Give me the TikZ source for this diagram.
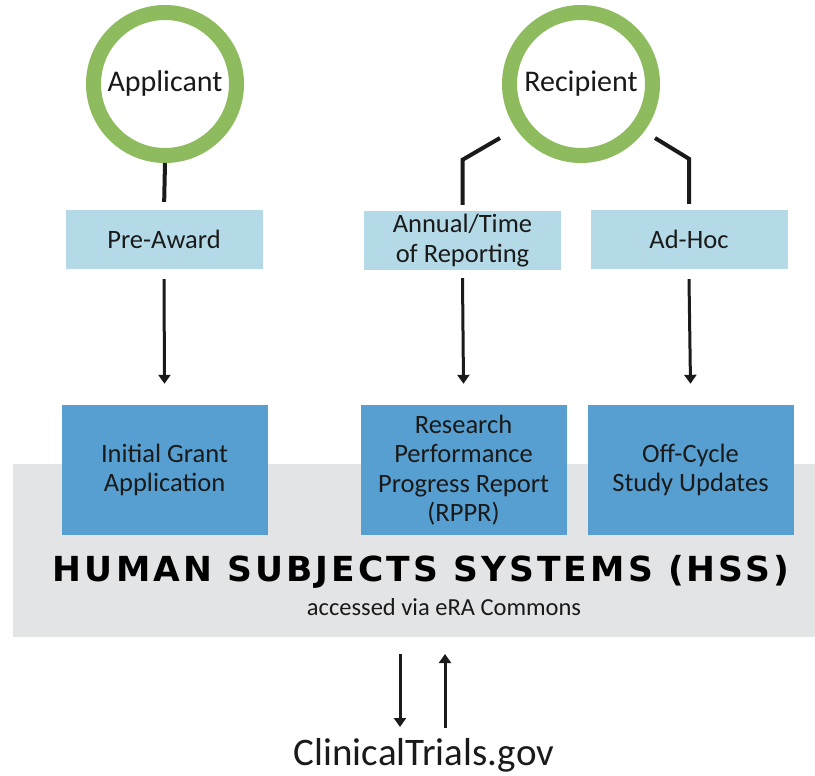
\documentclass[tikz,border=0pt]{standalone}
\usepackage{fontspec}
\setmainfont{Carlito}
\newfontfamily\hssfont[LetterSpace=9]{DejaVu Sans Bold}
\usetikzlibrary{arrows.meta}

\definecolor{ringgreen}{RGB}{141,187,94}
\definecolor{stageblue}{RGB}{180,218,232}
\definecolor{sysblue}{RGB}{86,159,208}
\definecolor{bandgray}{RGB}{227,228,230}
\definecolor{inkgray}{RGB}{26,26,26}

\tikzset{
  role/.style={circle, draw=ringgreen, line width=15pt, minimum size=143pt,
    inner sep=0pt, text=inkgray, font=\fontsize{30}{32}\selectfont},
  stage/.style={fill=stageblue, minimum width=197pt, minimum height=59pt,
    inner sep=0pt, align=center, text=inkgray, font=\fontsize{26.5}{29.5}\selectfont},
  system/.style={fill=sysblue, minimum width=206pt, minimum height=130pt,
    inner sep=0pt, align=center, text=inkgray, font=\fontsize{26.5}{29.5}\selectfont},
  link/.style={line width=4pt, draw=inkgray},
  flow/.style={line width=3pt, draw=inkgray, -{Triangle[width=12pt,length=9pt]}},
}

\begin{document}
\begin{tikzpicture}[x=1pt, y=-1pt]

    % Canvas of the reference size
    \useasboundingbox[fill=white] (0,0) rectangle (815,776);

    % Grey band of the systems
    \node[fill=bandgray, minimum width=802pt, minimum height=173pt, inner sep=0pt]
        (hss) at (414,550.5) {};

    % The two roles
    \node[role] (app) at (165,84) {Applicant};
    \node[role] (rec) at (581,84) {Recipient};

    % Reporting stages
    \node[stage] (pre) at (164,239.5) {Pre-Award};
    \node[stage] (rpt) at (462.5,240.5) {Annual/Time\\of Reporting};
    \node[stage] (adh) at (689,239.5) {Ad-Hoc};

    % Submissions, sitting on the band
    \node[system] (ini) at (164.5,470) {Initial Grant\\Application};
    \node[system] (rppr) at (463.5,470) {Research\\Performance\\Progress Report\\(RPPR)};
    \node[system] (off) at (690.5,470) {Off-Cycle\\Study Updates};

    % Band texts
    \node[text=black, font=\hssfont\fontsize{34.5}{36}\selectfont] (title) at (421,572)
        {HUMAN SUBJECTS SYSTEMS (HSS)};
    \node[text=inkgray, font=\fontsize{24.5}{26}\selectfont] (via) at (444,607)
        {accessed via eRA Commons};

    % Target registry
    \node[anchor=base, text=inkgray, font=\fontsize{39}{42}\selectfont] (ct) at (424,765)
        {ClinicalTrials.gov};

    % Role to stage links
    \draw[link, shorten >=8pt] (app.south) -- (pre.north);
    \draw[link, shorten >=6pt] ([xshift=-81pt, yshift=-54pt]rec.center)
        -- ([yshift=51pt]rpt.north) -- (rpt.north);
    \draw[link, shorten >=6pt] ([xshift=74pt, yshift=-54pt]rec.center)
        -- ([yshift=51pt]adh.north) -- (adh.north);

    % Stage to submission arrows
    \draw[flow] ([yshift=-10pt]pre.south) -- ([yshift=21pt]ini.north);
    \draw[flow] ([yshift=-8pt]rpt.south) -- ([yshift=21pt]rppr.north);
    \draw[flow] ([yshift=-10pt]adh.south) -- ([yshift=21pt]off.north);

    % Exchange with the registry
    \coordinate (out) at (400,654);
    \coordinate (back) at (445,728);
    \draw[flow] (out) -- ++(0,73);
    \draw[flow] (back) -- ++(0,-74);

\end{tikzpicture}
\end{document}
